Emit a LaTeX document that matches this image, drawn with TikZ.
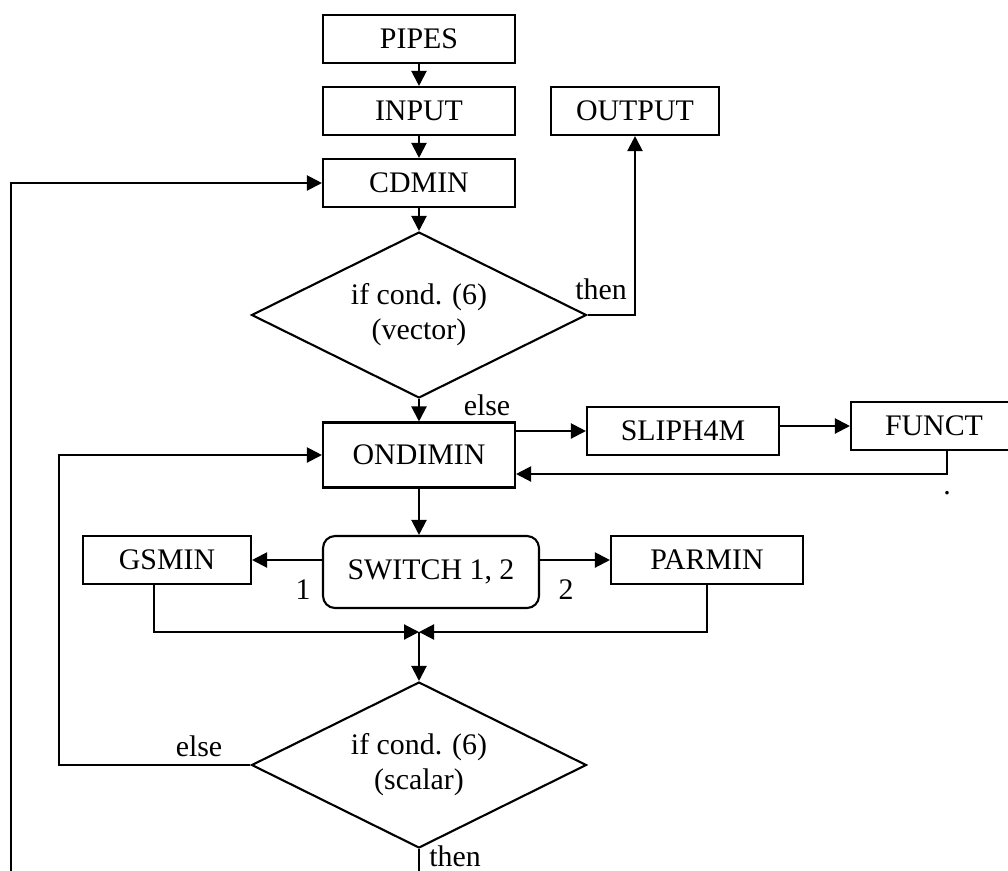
\documentclass[tikz,border=0pt]{standalone}
\usepackage{fontspec}
\setmainfont{Liberation Serif}
\usetikzlibrary{shapes.geometric,arrows.meta}

\begin{document}
\begin{tikzpicture}[x=0.02cm,y=-0.02cm,
	every node/.style={font=\fontsize{17}{20}\selectfont},
	block/.style={draw, line width=1.2pt, inner sep=0pt, minimum width=3.84cm, minimum height=0.96cm},
	cond/.style={draw, diamond, aspect=2.02, line width=1.2pt, inner sep=0pt, minimum width=6.7cm, minimum height=3.32cm, align=center},
	flow/.style={line width=1.2pt, -{Triangle[length=0.3cm,width=0.3cm]}},
	wire/.style={line width=1.2pt}]
	\useasboundingbox (0,0) rectangle (1008,870);
	\node[block] (pipes) at (419,39) {PIPES};
	\node[block] (input) at (419,111) {INPUT};
	\node[block, minimum width=3.36cm] (output) at (635,111) {OUTPUT};
	\node[block] (cdmin) at (419,183) {CDMIN};
	\node[cond] (cond1) at (419,315) {if cond. (6)\\(vector)};
	\node[block, minimum height=1.3cm] (ondimin) at (419,455) {ONDIMIN};
	\node[block] (sliph4m) at (683,431) {SLIPH4M};
	\node[block, minimum width=3.32cm] (funct) at (934,426) {FUNCT};
	\node[block, minimum width=4.32cm, minimum height=1.44cm, rounded corners=0.24cm] (switch) at (431,572) {SWITCH 1, 2};
	\node[block, minimum width=3.36cm] (gsmin) at (167,560) {GSMIN};
	\node[block] (parmin) at (707,560) {PARMIN};
	\node[cond] (cond2) at (419,765) {if cond. (6)\\(scalar)};
	\coordinate (fret) at (947,474);
	\coordinate (gdrop) at (154,632);
	\coordinate (pdrop) at (707,632);
	\coordinate (merge) at (419,632);
	\coordinate (backb) at (59,765);
	\coordinate (loopa) at (11,880);
	\coordinate (exitc) at (419,880);
	\draw[flow] (pipes.south) -- (input.north);
	\draw[flow] (input.south) -- (cdmin.north);
	\draw[flow] (cdmin.south) -- (cond1.north);
	\draw[flow] (cond1.east) -| (output.south);
	\draw[flow] (cond1.south) -- (ondimin.north);
	\draw[flow] (ondimin.east |- sliph4m.west) -- (sliph4m.west);
	\draw[flow] (sliph4m.east |- funct.west) -- (funct.west);
	\draw[flow] (funct.south -| fret) -- (fret) -- (fret -| ondimin.east);
	\draw[flow] (ondimin.south) -- (ondimin.south |- switch.north);
	\draw[flow] (switch.west |- gsmin.east) -- (gsmin.east);
	\draw[flow] (switch.east |- parmin.west) -- (parmin.west);
	\draw[flow] (gsmin.south -| gdrop) -- (gdrop) -- (merge);
	\draw[flow] (parmin.south) -- (pdrop) -- (merge);
	\draw[flow] (merge) -- (cond2.north);
	\draw[flow] (cond2.west) -- (backb) |- (ondimin.west);
	\draw[wire] (cond2.south) -- (exitc);
	\draw[flow] (loopa) |- (cdmin.west);
	\node (thena) at (601,289) {then};
	\node (elsea) at (487,405) {else};
	\node (onelab) at (303,590) {1};
	\node (twolab) at (566,590) {2};
	\node (elseb) at (199,746) {else};
	\node[inner sep=0pt] (thenb) at (455,856) {then};
	\node (dot) at (947,493) {.};
\end{tikzpicture}
\end{document}
